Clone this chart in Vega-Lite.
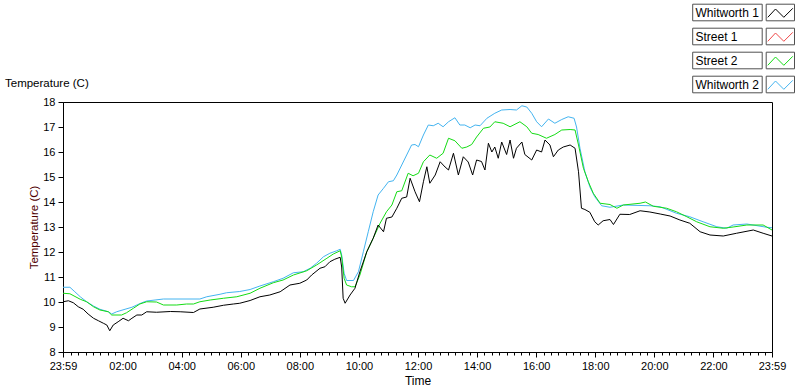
{
  "$schema": "https://vega.github.io/schema/vega-lite/v6.json",
  "width": 709,
  "height": 250,
  "autosize": {"type": "none"},
  "padding": {"left": 63, "top": 102, "right": 28, "bottom": 40},
  "background": "#ffffff",
  "config": {
    "font": "Liberation Sans",
    "view": {"stroke": "#000000", "strokeWidth": 1}
  },
  "title": {
    "text": "Temperature (C)",
    "anchor": "start",
    "frame": "group",
    "dx": -58,
    "dy": 91,
    "font": "Liberation Sans",
    "fontSize": 11.5,
    "fontWeight": "normal",
    "color": "#000000"
  },
  "datasets": {
    "temps": [
      {"min": -1, "series": "Whitworth 2", "temp": 10.59},
      {"min": 13, "series": "Whitworth 2", "temp": 10.59},
      {"min": 23, "series": "Whitworth 2", "temp": 10.41},
      {"min": 34, "series": "Whitworth 2", "temp": 10.21},
      {"min": 47, "series": "Whitworth 2", "temp": 10.01},
      {"min": 61, "series": "Whitworth 2", "temp": 9.84},
      {"min": 74, "series": "Whitworth 2", "temp": 9.71},
      {"min": 91, "series": "Whitworth 2", "temp": 9.61},
      {"min": 98, "series": "Whitworth 2", "temp": 9.52},
      {"min": 108, "series": "Whitworth 2", "temp": 9.61},
      {"min": 125, "series": "Whitworth 2", "temp": 9.71},
      {"min": 139, "series": "Whitworth 2", "temp": 9.79},
      {"min": 149, "series": "Whitworth 2", "temp": 9.88},
      {"min": 159, "series": "Whitworth 2", "temp": 9.97},
      {"min": 169, "series": "Whitworth 2", "temp": 10.04},
      {"min": 186, "series": "Whitworth 2", "temp": 10.08},
      {"min": 203, "series": "Whitworth 2", "temp": 10.12},
      {"min": 277, "series": "Whitworth 2", "temp": 10.12},
      {"min": 291, "series": "Whitworth 2", "temp": 10.21},
      {"min": 318, "series": "Whitworth 2", "temp": 10.31},
      {"min": 331, "series": "Whitworth 2", "temp": 10.37},
      {"min": 358, "series": "Whitworth 2", "temp": 10.42},
      {"min": 379, "series": "Whitworth 2", "temp": 10.5},
      {"min": 399, "series": "Whitworth 2", "temp": 10.64},
      {"min": 426, "series": "Whitworth 2", "temp": 10.81},
      {"min": 446, "series": "Whitworth 2", "temp": 10.95},
      {"min": 467, "series": "Whitworth 2", "temp": 11.17},
      {"min": 487, "series": "Whitworth 2", "temp": 11.21},
      {"min": 501, "series": "Whitworth 2", "temp": 11.35},
      {"min": 514, "series": "Whitworth 2", "temp": 11.55},
      {"min": 528, "series": "Whitworth 2", "temp": 11.81},
      {"min": 541, "series": "Whitworth 2", "temp": 11.95},
      {"min": 555, "series": "Whitworth 2", "temp": 12.05},
      {"min": 562, "series": "Whitworth 2", "temp": 12.11},
      {"min": 565, "series": "Whitworth 2", "temp": 11.88},
      {"min": 570, "series": "Whitworth 2", "temp": 11.15},
      {"min": 575, "series": "Whitworth 2", "temp": 10.86},
      {"min": 589, "series": "Whitworth 2", "temp": 10.86},
      {"min": 599, "series": "Whitworth 2", "temp": 11.21},
      {"min": 609, "series": "Whitworth 2", "temp": 12.01},
      {"min": 619, "series": "Whitworth 2", "temp": 12.81},
      {"min": 629, "series": "Whitworth 2", "temp": 13.61},
      {"min": 639, "series": "Whitworth 2", "temp": 14.28},
      {"min": 650, "series": "Whitworth 2", "temp": 14.55},
      {"min": 660, "series": "Whitworth 2", "temp": 14.81},
      {"min": 670, "series": "Whitworth 2", "temp": 14.85},
      {"min": 677, "series": "Whitworth 2", "temp": 15.08},
      {"min": 687, "series": "Whitworth 2", "temp": 15.48},
      {"min": 697, "series": "Whitworth 2", "temp": 15.88},
      {"min": 707, "series": "Whitworth 2", "temp": 16.28},
      {"min": 714, "series": "Whitworth 2", "temp": 16.3},
      {"min": 721, "series": "Whitworth 2", "temp": 16.21},
      {"min": 731, "series": "Whitworth 2", "temp": 16.68},
      {"min": 741, "series": "Whitworth 2", "temp": 17.08},
      {"min": 751, "series": "Whitworth 2", "temp": 17.05},
      {"min": 761, "series": "Whitworth 2", "temp": 17.15},
      {"min": 771, "series": "Whitworth 2", "temp": 17.01},
      {"min": 782, "series": "Whitworth 2", "temp": 17.21},
      {"min": 795, "series": "Whitworth 2", "temp": 17.37},
      {"min": 805, "series": "Whitworth 2", "temp": 17.08},
      {"min": 815, "series": "Whitworth 2", "temp": 17.08},
      {"min": 826, "series": "Whitworth 2", "temp": 16.97},
      {"min": 836, "series": "Whitworth 2", "temp": 17.08},
      {"min": 846, "series": "Whitworth 2", "temp": 17.05},
      {"min": 860, "series": "Whitworth 2", "temp": 17.35},
      {"min": 876, "series": "Whitworth 2", "temp": 17.55},
      {"min": 890, "series": "Whitworth 2", "temp": 17.68},
      {"min": 907, "series": "Whitworth 2", "temp": 17.7},
      {"min": 920, "series": "Whitworth 2", "temp": 17.68},
      {"min": 931, "series": "Whitworth 2", "temp": 17.85},
      {"min": 941, "series": "Whitworth 2", "temp": 17.8},
      {"min": 951, "series": "Whitworth 2", "temp": 17.55},
      {"min": 961, "series": "Whitworth 2", "temp": 17.21},
      {"min": 971, "series": "Whitworth 2", "temp": 17.01},
      {"min": 985, "series": "Whitworth 2", "temp": 17.32},
      {"min": 998, "series": "Whitworth 2", "temp": 17.15},
      {"min": 1012, "series": "Whitworth 2", "temp": 17.3},
      {"min": 1025, "series": "Whitworth 2", "temp": 17.41},
      {"min": 1037, "series": "Whitworth 2", "temp": 17.35},
      {"min": 1042, "series": "Whitworth 2", "temp": 17.0},
      {"min": 1049, "series": "Whitworth 2", "temp": 16.15},
      {"min": 1059, "series": "Whitworth 2", "temp": 15.21},
      {"min": 1069, "series": "Whitworth 2", "temp": 14.61},
      {"min": 1079, "series": "Whitworth 2", "temp": 14.21},
      {"min": 1093, "series": "Whitworth 2", "temp": 13.85},
      {"min": 1110, "series": "Whitworth 2", "temp": 13.79},
      {"min": 1137, "series": "Whitworth 2", "temp": 13.88},
      {"min": 1191, "series": "Whitworth 2", "temp": 13.85},
      {"min": 1212, "series": "Whitworth 2", "temp": 13.81},
      {"min": 1245, "series": "Whitworth 2", "temp": 13.55},
      {"min": 1272, "series": "Whitworth 2", "temp": 13.41},
      {"min": 1299, "series": "Whitworth 2", "temp": 13.21},
      {"min": 1327, "series": "Whitworth 2", "temp": 13.01},
      {"min": 1347, "series": "Whitworth 2", "temp": 12.95},
      {"min": 1360, "series": "Whitworth 2", "temp": 13.08},
      {"min": 1388, "series": "Whitworth 2", "temp": 13.12},
      {"min": 1428, "series": "Whitworth 2", "temp": 12.99},
      {"min": 1439, "series": "Whitworth 2", "temp": 12.97},

      {"min": -1, "series": "Street 2", "temp": 10.35},
      {"min": 13, "series": "Street 2", "temp": 10.33},
      {"min": 34, "series": "Street 2", "temp": 10.11},
      {"min": 47, "series": "Street 2", "temp": 10.01},
      {"min": 61, "series": "Street 2", "temp": 9.81},
      {"min": 74, "series": "Street 2", "temp": 9.68},
      {"min": 91, "series": "Street 2", "temp": 9.61},
      {"min": 98, "series": "Street 2", "temp": 9.48},
      {"min": 118, "series": "Street 2", "temp": 9.48},
      {"min": 128, "series": "Street 2", "temp": 9.57},
      {"min": 142, "series": "Street 2", "temp": 9.75},
      {"min": 155, "series": "Street 2", "temp": 9.92},
      {"min": 169, "series": "Street 2", "temp": 10.01},
      {"min": 189, "series": "Street 2", "temp": 10.0},
      {"min": 203, "series": "Street 2", "temp": 9.88},
      {"min": 230, "series": "Street 2", "temp": 9.88},
      {"min": 250, "series": "Street 2", "temp": 9.92},
      {"min": 264, "series": "Street 2", "temp": 9.92},
      {"min": 277, "series": "Street 2", "temp": 10.01},
      {"min": 298, "series": "Street 2", "temp": 10.08},
      {"min": 325, "series": "Street 2", "temp": 10.15},
      {"min": 352, "series": "Street 2", "temp": 10.21},
      {"min": 379, "series": "Street 2", "temp": 10.35},
      {"min": 399, "series": "Street 2", "temp": 10.55},
      {"min": 426, "series": "Street 2", "temp": 10.77},
      {"min": 446, "series": "Street 2", "temp": 10.88},
      {"min": 467, "series": "Street 2", "temp": 11.08},
      {"min": 494, "series": "Street 2", "temp": 11.25},
      {"min": 514, "series": "Street 2", "temp": 11.48},
      {"min": 535, "series": "Street 2", "temp": 11.75},
      {"min": 548, "series": "Street 2", "temp": 11.92},
      {"min": 562, "series": "Street 2", "temp": 12.05},
      {"min": 565, "series": "Street 2", "temp": 11.8},
      {"min": 570, "series": "Street 2", "temp": 10.95},
      {"min": 575, "series": "Street 2", "temp": 10.68},
      {"min": 585, "series": "Street 2", "temp": 10.61},
      {"min": 592, "series": "Street 2", "temp": 10.61},
      {"min": 602, "series": "Street 2", "temp": 11.08},
      {"min": 616, "series": "Street 2", "temp": 12.01},
      {"min": 629, "series": "Street 2", "temp": 12.55},
      {"min": 643, "series": "Street 2", "temp": 13.15},
      {"min": 656, "series": "Street 2", "temp": 13.61},
      {"min": 667, "series": "Street 2", "temp": 13.88},
      {"min": 677, "series": "Street 2", "temp": 14.41},
      {"min": 687, "series": "Street 2", "temp": 14.45},
      {"min": 700, "series": "Street 2", "temp": 15.15},
      {"min": 710, "series": "Street 2", "temp": 15.05},
      {"min": 721, "series": "Street 2", "temp": 15.15},
      {"min": 731, "series": "Street 2", "temp": 15.61},
      {"min": 744, "series": "Street 2", "temp": 15.88},
      {"min": 758, "series": "Street 2", "temp": 15.75},
      {"min": 771, "series": "Street 2", "temp": 15.95},
      {"min": 782, "series": "Street 2", "temp": 16.55},
      {"min": 795, "series": "Street 2", "temp": 16.45},
      {"min": 809, "series": "Street 2", "temp": 16.15},
      {"min": 819, "series": "Street 2", "temp": 16.2},
      {"min": 829, "series": "Street 2", "temp": 16.3},
      {"min": 839, "series": "Street 2", "temp": 16.6},
      {"min": 853, "series": "Street 2", "temp": 16.95},
      {"min": 866, "series": "Street 2", "temp": 17.0},
      {"min": 876, "series": "Street 2", "temp": 17.21},
      {"min": 893, "series": "Street 2", "temp": 17.15},
      {"min": 907, "series": "Street 2", "temp": 17.01},
      {"min": 927, "series": "Street 2", "temp": 17.21},
      {"min": 941, "series": "Street 2", "temp": 17.01},
      {"min": 951, "series": "Street 2", "temp": 16.75},
      {"min": 964, "series": "Street 2", "temp": 16.7},
      {"min": 981, "series": "Street 2", "temp": 16.55},
      {"min": 998, "series": "Street 2", "temp": 16.7},
      {"min": 1012, "series": "Street 2", "temp": 16.88},
      {"min": 1029, "series": "Street 2", "temp": 16.9},
      {"min": 1039, "series": "Street 2", "temp": 16.88},
      {"min": 1046, "series": "Street 2", "temp": 16.28},
      {"min": 1056, "series": "Street 2", "temp": 15.35},
      {"min": 1066, "series": "Street 2", "temp": 14.81},
      {"min": 1076, "series": "Street 2", "temp": 14.35},
      {"min": 1090, "series": "Street 2", "temp": 13.95},
      {"min": 1110, "series": "Street 2", "temp": 13.9},
      {"min": 1124, "series": "Street 2", "temp": 13.75},
      {"min": 1137, "series": "Street 2", "temp": 13.88},
      {"min": 1171, "series": "Street 2", "temp": 13.95},
      {"min": 1182, "series": "Street 2", "temp": 14.0},
      {"min": 1198, "series": "Street 2", "temp": 13.83},
      {"min": 1225, "series": "Street 2", "temp": 13.75},
      {"min": 1245, "series": "Street 2", "temp": 13.61},
      {"min": 1266, "series": "Street 2", "temp": 13.41},
      {"min": 1286, "series": "Street 2", "temp": 13.21},
      {"min": 1313, "series": "Street 2", "temp": 13.01},
      {"min": 1340, "series": "Street 2", "temp": 12.95},
      {"min": 1360, "series": "Street 2", "temp": 13.0},
      {"min": 1388, "series": "Street 2", "temp": 13.08},
      {"min": 1421, "series": "Street 2", "temp": 13.08},
      {"min": 1439, "series": "Street 2", "temp": 12.88},

      {"min": -1, "series": "Whitworth 1", "temp": 10.01},
      {"min": 10, "series": "Whitworth 1", "temp": 10.05},
      {"min": 20, "series": "Whitworth 1", "temp": 9.97},
      {"min": 30, "series": "Whitworth 1", "temp": 9.81},
      {"min": 40, "series": "Whitworth 1", "temp": 9.71},
      {"min": 50, "series": "Whitworth 1", "temp": 9.52},
      {"min": 61, "series": "Whitworth 1", "temp": 9.35},
      {"min": 71, "series": "Whitworth 1", "temp": 9.25},
      {"min": 81, "series": "Whitworth 1", "temp": 9.15},
      {"min": 88, "series": "Whitworth 1", "temp": 9.08},
      {"min": 94, "series": "Whitworth 1", "temp": 8.85},
      {"min": 101, "series": "Whitworth 1", "temp": 9.08},
      {"min": 111, "series": "Whitworth 1", "temp": 9.21},
      {"min": 121, "series": "Whitworth 1", "temp": 9.35},
      {"min": 132, "series": "Whitworth 1", "temp": 9.25},
      {"min": 139, "series": "Whitworth 1", "temp": 9.35},
      {"min": 149, "series": "Whitworth 1", "temp": 9.48},
      {"min": 159, "series": "Whitworth 1", "temp": 9.48},
      {"min": 169, "series": "Whitworth 1", "temp": 9.61},
      {"min": 189, "series": "Whitworth 1", "temp": 9.59},
      {"min": 217, "series": "Whitworth 1", "temp": 9.62},
      {"min": 237, "series": "Whitworth 1", "temp": 9.61},
      {"min": 264, "series": "Whitworth 1", "temp": 9.58},
      {"min": 277, "series": "Whitworth 1", "temp": 9.72},
      {"min": 304, "series": "Whitworth 1", "temp": 9.79},
      {"min": 325, "series": "Whitworth 1", "temp": 9.87},
      {"min": 345, "series": "Whitworth 1", "temp": 9.92},
      {"min": 358, "series": "Whitworth 1", "temp": 9.95},
      {"min": 379, "series": "Whitworth 1", "temp": 10.06},
      {"min": 399, "series": "Whitworth 1", "temp": 10.21},
      {"min": 419, "series": "Whitworth 1", "temp": 10.28},
      {"min": 440, "series": "Whitworth 1", "temp": 10.41},
      {"min": 460, "series": "Whitworth 1", "temp": 10.68},
      {"min": 480, "series": "Whitworth 1", "temp": 10.75},
      {"min": 494, "series": "Whitworth 1", "temp": 10.88},
      {"min": 504, "series": "Whitworth 1", "temp": 11.08},
      {"min": 521, "series": "Whitworth 1", "temp": 11.35},
      {"min": 531, "series": "Whitworth 1", "temp": 11.41},
      {"min": 541, "series": "Whitworth 1", "temp": 11.61},
      {"min": 551, "series": "Whitworth 1", "temp": 11.71},
      {"min": 562, "series": "Whitworth 1", "temp": 11.79},
      {"min": 565, "series": "Whitworth 1", "temp": 11.4},
      {"min": 568, "series": "Whitworth 1", "temp": 10.15},
      {"min": 572, "series": "Whitworth 1", "temp": 9.95},
      {"min": 582, "series": "Whitworth 1", "temp": 10.28},
      {"min": 592, "series": "Whitworth 1", "temp": 10.55},
      {"min": 602, "series": "Whitworth 1", "temp": 11.21},
      {"min": 616, "series": "Whitworth 1", "temp": 12.01},
      {"min": 629, "series": "Whitworth 1", "temp": 12.55},
      {"min": 639, "series": "Whitworth 1", "temp": 13.08},
      {"min": 650, "series": "Whitworth 1", "temp": 12.81},
      {"min": 656, "series": "Whitworth 1", "temp": 13.35},
      {"min": 667, "series": "Whitworth 1", "temp": 13.4},
      {"min": 677, "series": "Whitworth 1", "temp": 13.75},
      {"min": 687, "series": "Whitworth 1", "temp": 14.15},
      {"min": 697, "series": "Whitworth 1", "temp": 14.2},
      {"min": 704, "series": "Whitworth 1", "temp": 14.95},
      {"min": 714, "series": "Whitworth 1", "temp": 14.41},
      {"min": 723, "series": "Whitworth 1", "temp": 14.01},
      {"min": 731, "series": "Whitworth 1", "temp": 14.81},
      {"min": 738, "series": "Whitworth 1", "temp": 15.41},
      {"min": 744, "series": "Whitworth 1", "temp": 14.75},
      {"min": 755, "series": "Whitworth 1", "temp": 15.08},
      {"min": 765, "series": "Whitworth 1", "temp": 15.61},
      {"min": 775, "series": "Whitworth 1", "temp": 15.4},
      {"min": 782, "series": "Whitworth 1", "temp": 15.28},
      {"min": 792, "series": "Whitworth 1", "temp": 15.95},
      {"min": 802, "series": "Whitworth 1", "temp": 15.08},
      {"min": 812, "series": "Whitworth 1", "temp": 15.81},
      {"min": 822, "series": "Whitworth 1", "temp": 15.6},
      {"min": 831, "series": "Whitworth 1", "temp": 15.08},
      {"min": 839, "series": "Whitworth 1", "temp": 15.68},
      {"min": 849, "series": "Whitworth 1", "temp": 15.62},
      {"min": 856, "series": "Whitworth 1", "temp": 15.28},
      {"min": 863, "series": "Whitworth 1", "temp": 16.35},
      {"min": 870, "series": "Whitworth 1", "temp": 16.0},
      {"min": 876, "series": "Whitworth 1", "temp": 16.2},
      {"min": 883, "series": "Whitworth 1", "temp": 15.75},
      {"min": 890, "series": "Whitworth 1", "temp": 16.4},
      {"min": 900, "series": "Whitworth 1", "temp": 15.9},
      {"min": 907, "series": "Whitworth 1", "temp": 16.48},
      {"min": 914, "series": "Whitworth 1", "temp": 15.75},
      {"min": 920, "series": "Whitworth 1", "temp": 16.15},
      {"min": 931, "series": "Whitworth 1", "temp": 16.4},
      {"min": 937, "series": "Whitworth 1", "temp": 15.9},
      {"min": 951, "series": "Whitworth 1", "temp": 15.68},
      {"min": 961, "series": "Whitworth 1", "temp": 16.08},
      {"min": 971, "series": "Whitworth 1", "temp": 16.0},
      {"min": 978, "series": "Whitworth 1", "temp": 16.48},
      {"min": 988, "series": "Whitworth 1", "temp": 16.28},
      {"min": 995, "series": "Whitworth 1", "temp": 15.81},
      {"min": 1005, "series": "Whitworth 1", "temp": 16.08},
      {"min": 1015, "series": "Whitworth 1", "temp": 16.2},
      {"min": 1029, "series": "Whitworth 1", "temp": 16.28},
      {"min": 1039, "series": "Whitworth 1", "temp": 16.15},
      {"min": 1046, "series": "Whitworth 1", "temp": 15.21},
      {"min": 1052, "series": "Whitworth 1", "temp": 13.75},
      {"min": 1059, "series": "Whitworth 1", "temp": 13.7},
      {"min": 1069, "series": "Whitworth 1", "temp": 13.59},
      {"min": 1079, "series": "Whitworth 1", "temp": 13.21},
      {"min": 1086, "series": "Whitworth 1", "temp": 13.08},
      {"min": 1096, "series": "Whitworth 1", "temp": 13.25},
      {"min": 1110, "series": "Whitworth 1", "temp": 13.3},
      {"min": 1117, "series": "Whitworth 1", "temp": 13.1},
      {"min": 1130, "series": "Whitworth 1", "temp": 13.51},
      {"min": 1150, "series": "Whitworth 1", "temp": 13.5},
      {"min": 1171, "series": "Whitworth 1", "temp": 13.65},
      {"min": 1191, "series": "Whitworth 1", "temp": 13.6},
      {"min": 1212, "series": "Whitworth 1", "temp": 13.52},
      {"min": 1232, "series": "Whitworth 1", "temp": 13.44},
      {"min": 1252, "series": "Whitworth 1", "temp": 13.28},
      {"min": 1272, "series": "Whitworth 1", "temp": 13.15},
      {"min": 1293, "series": "Whitworth 1", "temp": 12.81},
      {"min": 1313, "series": "Whitworth 1", "temp": 12.68},
      {"min": 1340, "series": "Whitworth 1", "temp": 12.64},
      {"min": 1367, "series": "Whitworth 1", "temp": 12.75},
      {"min": 1401, "series": "Whitworth 1", "temp": 12.88},
      {"min": 1421, "series": "Whitworth 1", "temp": 12.75},
      {"min": 1439, "series": "Whitworth 1", "temp": 12.64}
    ]
  },
  "layer": [
    {
      "data": {"name": "temps"},
      "mark": {"type": "line", "strokeWidth": 1, "interpolate": "linear"},
      "encoding": {
        "x": {
          "field": "min",
          "type": "quantitative",
          "scale": {"domain": [-1, 1439], "nice": false, "zero": false},
          "axis": {
            "title": "Time",
            "titleFont": "Liberation Sans",
            "titleFontSize": 12,
            "titleFontWeight": "normal",
            "titleColor": "#000000",
            "titlePadding": 4,
            "values": [-1,15,30,45,60,75,90,105,120,135,150,165,180,195,210,225,240,255,270,285,300,315,330,345,360,375,390,405,420,435,450,465,480,495,510,525,540,555,570,585,600,615,630,645,660,675,690,705,720,735,750,765,780,795,810,825,840,855,870,885,900,915,930,945,960,975,990,1005,1020,1035,1050,1065,1080,1095,1110,1125,1140,1155,1170,1185,1200,1215,1230,1245,1260,1275,1290,1305,1320,1335,1350,1365,1380,1395,1410,1425,1439],
            "labelExpr": "datum.value == -1 || datum.value == 1439 ? '23:59' : (datum.value % 120 == 0 ? timeFormat(datetime(2000, 0, 1, 0, datum.value), '%H:%M') : '')",
            "labelFont": "Liberation Sans",
            "labelFontSize": 11,
            "labelColor": "#000000",
            "labelOverlap": false,
            "labelFlush": false,
            "labelPadding": 3,
            "tickSize": {"condition": {"test": "datum.value % 120 == 0 || datum.value == -1 || datum.value == 1439", "value": 5}, "value": 3},
            "tickColor": "#000000",
            "domainColor": "#000000",
            "grid": false
          }
        },
        "y": {
          "field": "temp",
          "type": "quantitative",
          "scale": {"domain": [8, 18], "nice": false, "zero": false},
          "axis": {
            "title": "Temperature (C)",
            "titleFont": "Liberation Sans",
            "titleFontSize": 11.5,
            "titleFontWeight": "normal",
            "titleColor": "#500000",
            "titlePadding": 3,
            "values": [8, 9, 10, 11, 12, 13, 14, 15, 16, 17, 18],
            "labelFont": "Liberation Sans",
            "labelFontSize": 11,
            "labelColor": "#000000",
            "labelPadding": 3,
            "tickSize": 5,
            "tickColor": "#000000",
            "domainColor": "#000000",
            "grid": false
          }
        },
        "color": {
          "field": "series",
          "type": "nominal",
          "scale": {
            "domain": ["Whitworth 1", "Street 1", "Street 2", "Whitworth 2"],
            "range": ["#000000", "#f04848", "#14dc14", "#44b4f0"]
          },
          "legend": {
            "orient": "none",
            "legendX": 707,
            "legendY": -100,
            "title": null,
            "padding": 0,
            "rowPadding": 3,
            "symbolType": "M-8.8,-0.85M1.4,0.85M-1.27,0.48L-0.5,-0.35L0.33,0.48L1.23,-0.42",
            "symbolSize": 400,
            "symbolStrokeWidth": 1,
            "symbolFillColor": "transparent",
            "symbolOffset": 0,
            "labelAlign": "left",
            "labelBaseline": "middle",
            "labelOffset": -95.5,
            "labelFont": "Liberation Sans",
            "labelFontSize": 12,
            "labelColor": "#000000",
            "labelLimit": 200
          }
        }
      }
    },
    {
      "data": {"values": [{"box": "Whitworth 1"}, {"box": "Street 1"}, {"box": "Street 2"}, {"box": "Whitworth 2"}]},
      "mark": {"type": "point", "opacity": 0},
      "encoding": {
        "shape": {
          "field": "box",
          "type": "nominal",
          "scale": {
            "range": [
              "M-8.78,-0.83H-1.83V0.83H-8.78ZM-1.43,-0.83H1.4V0.83H-1.43Z",
              "M-8.78,-0.83H-1.83V0.83H-8.78ZM-1.43,-0.83H1.4V0.83H-1.43Z",
              "M-8.78,-0.83H-1.83V0.83H-8.78ZM-1.43,-0.83H1.4V0.83H-1.43Z",
              "M-8.78,-0.83H-1.83V0.83H-8.78ZM-1.43,-0.83H1.4V0.83H-1.43Z"
            ]
          },
          "legend": {
            "orient": "none",
            "legendX": 707,
            "legendY": -100,
            "title": null,
            "padding": 0,
            "rowPadding": 3,
            "symbolSize": 400,
            "symbolStrokeWidth": 1,
            "symbolStrokeColor": "#505050",
            "symbolFillColor": "transparent",
            "symbolOpacity": 1,
            "symbolOffset": 0,
            "labelExpr": "''",
            "labelFontSize": 12
          }
        }
      }
    }
  ]
}
